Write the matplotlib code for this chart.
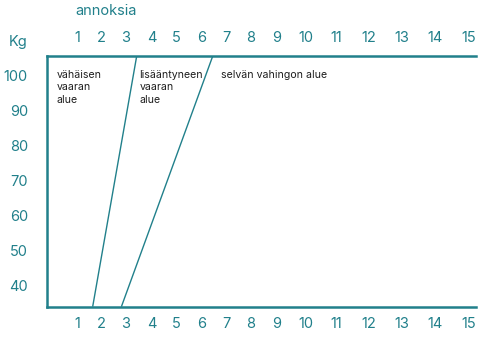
import numpy as np
import matplotlib
matplotlib.use('Agg')
import matplotlib.pyplot as plt

# Data
x_ticks = list(range(1, 16))
y_ticks = [40, 50, 60, 70, 80, 90, 100]
# boundary lines between zones: (x at bottom, x at top)
boundary_1 = [1.63, 3.42]
boundary_2 = [2.81, 6.45]
y_range = [33.8, 105.6]
zone_labels = ['vähäisen\nvaaran\nalue', 'lisääntyneen\nvaaran\nalue', 'selvän vahingon alue']

teal = '#21808b'
plt.rcParams['font.family'] = ['Inter', 'DejaVu Sans']

# the tick labels in the original are not evenly spaced (text-flow layout),
# so use a piecewise scale anchored at the printed label positions
anchor_v = [-1, 0] + x_ticks + [16]
anchor_px = [28.7, 53.0, 77.3, 101.7, 126.0, 151.7, 176.7, 201.7, 226.7, 251.0,
             276.7, 305.7, 336.7, 368.3, 401.7, 435.0, 468.3, 501.6]

def fwd(v):
    return np.interp(v, anchor_v, anchor_px)

def inv(p):
    return np.interp(p, anchor_px, anchor_v)

fig = plt.figure(figsize=(4.8, 3.59), dpi=100)
ax = fig.add_axes([46.7 / 480, 1 - 306.7 / 359, (476 - 46.7) / 480, (306.7 - 55.5) / 359])
ax.set_xscale('function', functions=(fwd, inv))
ax.set_xlim(inv(46.7), inv(476))
ax.set_ylim(y_range[0], y_range[1])

ax.plot(boundary_1, y_range, color=teal, lw=1.0, solid_capstyle='butt')
ax.plot(boundary_2, y_range, color=teal, lw=1.0, solid_capstyle='butt')

for s in ['left', 'top', 'bottom']:
    ax.spines[s].set_color(teal)
    ax.spines[s].set_linewidth(1.8)
ax.spines['right'].set_visible(False)

ax.set_xticks(x_ticks)
ax.set_xticklabels([str(v) for v in x_ticks])
ax.set_yticks(y_ticks)
ax.set_yticklabels([str(v) for v in y_ticks])
ax.minorticks_off()
ax.tick_params(axis='x', which='both', length=0, labelsize=10.5, labelcolor=teal,
               top=False, labeltop=True, pad=7.5)
ax.tick_params(axis='y', which='both', length=0, labelsize=10.5, labelcolor=teal, pad=13.5)

label_x = [0.0233, 0.2164, 0.405]
for lx, txt in zip(label_x, zone_labels):
    ax.text(lx, 0.942, txt, transform=ax.transAxes, fontsize=7.6, color='#1e1e1e',
            va='top', ha='left', linespacing=1.3)

fig.text(18 / 480, 1 - 41.7 / 359, 'Kg', color=teal, fontsize=10.5, ha='center', va='center')
fig.text(106 / 480, 1 - 11 / 359, 'annoksia', color=teal, fontsize=10.5, ha='center', va='center')

fig.savefig('out.png', dpi=100, facecolor='white')
